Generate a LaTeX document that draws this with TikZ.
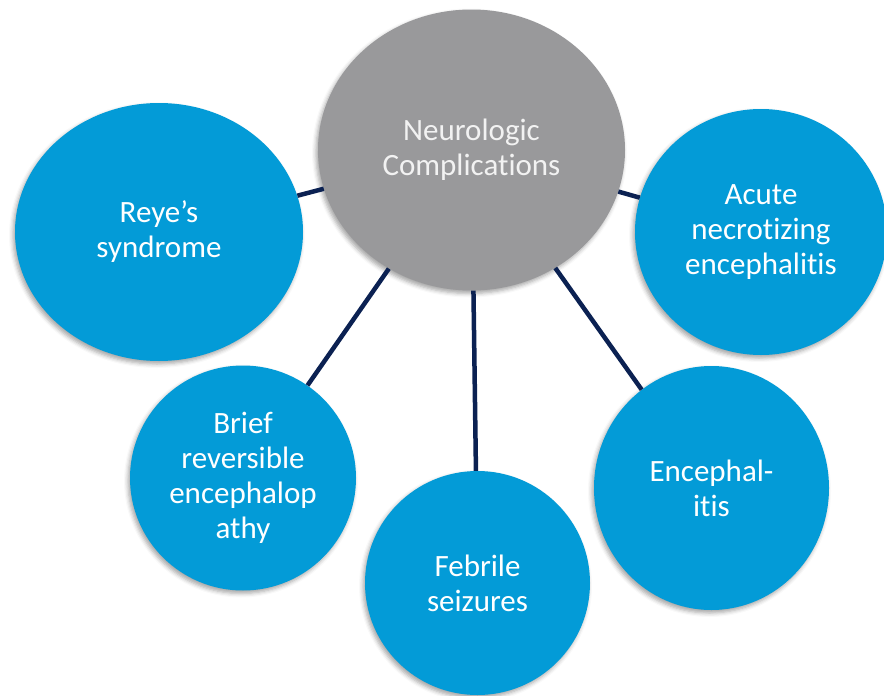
\documentclass[tikz,border=0pt]{standalone}
\usepackage{fontspec}
\setmainfont[Ligatures={NoCommon,NoContextual}]{Carlito}
\usetikzlibrary{shapes.geometric, shadows.blur}

\definecolor{hubgray}{RGB}{153,153,155}
\definecolor{leafblue}{RGB}{3,155,215}
\definecolor{linknavy}{RGB}{11,33,82}

\tikzstyle{hub} = [ellipse, 
minimum width=307pt, 
minimum height=281pt,
inner sep=0pt,
align=center, 
fill=hubgray, 
text=white!95!black,
blur shadow={shadow xshift=-2pt, shadow yshift=-3pt, shadow blur radius=4pt, shadow opacity=35}]
\tikzstyle{leaf} = [ellipse, 
inner sep=0pt,
align=center, 
fill=leafblue, 
text=white,
blur shadow={shadow xshift=-2pt, shadow yshift=-3pt, shadow blur radius=4pt, shadow opacity=35}]
\tikzstyle{link} = [line width=4.5pt, draw=linknavy]

\begin{document}
\begin{tikzpicture}[x=1pt, y=-1pt, font=\fontsize{31}{35}\selectfont]

\useasboundingbox (0,0) rectangle (884,696);

\node (neuro) [hub] at (471.5,150) {Neurologic\\Complications};

\node (reye) [leaf, minimum width=288pt, minimum height=258pt] at (159,232) {Reye’s\\syndrome};
\node (acute) [leaf, minimum width=252pt, minimum height=246pt] at (761,232) {Acute\\necrotizing\\encephalitis};
\node (brief) [leaf, minimum width=226pt, minimum height=225pt] at (243,478) {Brief\\reversible\\encephalop\\athy};
\node (febrile) [leaf, minimum width=225pt, minimum height=224pt] at (477.5,583) {Febrile\\seizures};
\node (enceph) [leaf, minimum width=235pt, minimum height=244pt] at (711.5,488) {Encephal-\\itis};

\draw [link] (neuro) -- (reye);
\draw [link] (neuro) -- (acute);
\draw [link] (neuro) -- (brief);
\draw [link] (neuro) -- (febrile);
\draw [link] (neuro) -- (enceph);

\end{tikzpicture}
\end{document}
